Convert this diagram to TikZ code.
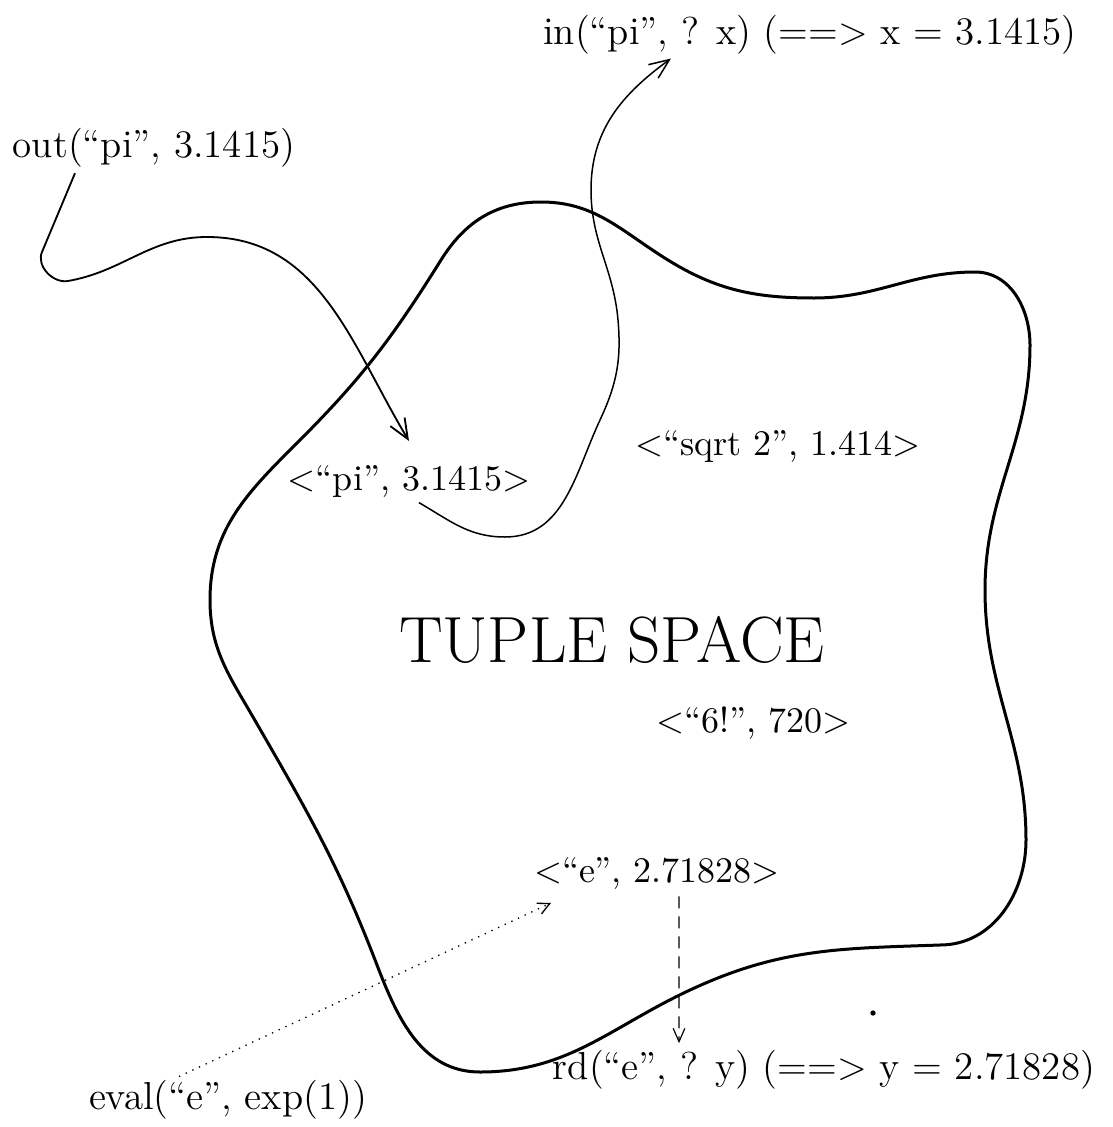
\documentclass[tikz,border=0pt]{standalone}
\usetikzlibrary{arrows.meta}
\begin{document}
\begin{tikzpicture}[
        x=0.3pt, y=-0.3pt,
        op/.style={inner sep=0pt, font=\fontsize{11.7}{14}\selectfont},
        tuple/.style={inner sep=0pt, font=\fontsize{10.8}{13}\selectfont},
        bigtitle/.style={inner sep=0pt, font=\fontsize{19.6}{24}\selectfont},
        spaceline/.style={line width=0.9pt},
        move/.style={line width=0.55pt, -{Straight Barb[length=6pt, width=5pt]}},
        readline/.style={line width=0.35pt, dash pattern=on 3.6pt off 2.4pt, -{Straight Barb[length=4pt, width=3.5pt]}},
        evalline/.style={line width=0.4pt, dash pattern=on 0.4pt off 1.8pt, -{Straight Barb[length=3.5pt, width=3.5pt]}},
    ]
    \useasboundingbox (0,0) rectangle (1112,1127);
    \node[op] (out) at (154,148) {out(“pi”, 3.1415)};
    \node[op] (in) at (810,35) {in(“pi”, ? x) (==> x = 3.1415)};
    \node[tuple] (pi) at (409,481) {<“pi”, 3.1415>};
    \node[tuple] (sqrt) at (778,446) {<“sqrt 2”, 1.414>};
    \node[bigtitle] (ts) at (612,640) {TUPLE SPACE};
    \node[tuple] (six) at (753,723) {<“6!”, 720>};
    \node[tuple] (e) at (657,873) {<“e”, 2.71828>};
    \node[op] (rd) at (824,1070) {rd(“e”, ? y) (==> y = 2.71828)};
    \node[op] (eval) at (228,1100) {eval(“e”, exp(1))};
    \draw[spaceline] (541,202) to[out=0, in=147] (660,255) to[out=327, in=180] (814,298)
        to[out=0, in=180] (975,272) to[out=0, in=90] (1030,345)
        to[out=270, in=90] (985,590) to[out=270, in=90] (1026,840)
        to[out=270, in=0] (940,945) to[out=182, in=25] (690,990)
        to[out=205, in=0] (480,1072) to[out=180, in=291] (377,965)
        to[out=111, in=300] (253,717) to[out=120, in=270] (210,600)
        to[out=90, in=225] (300,440) to[out=45, in=238] (441,260)
        to[out=58, in=180] cycle;
    \draw[move] ([xshift=-23.7pt, yshift=-1.5pt]out.south) -- (42,252)
        to[out=247, in=190] (68,281) to[out=10, in=180] (207,237)
        to[out=0, in=121] ([yshift=7pt]pi.north);
    \draw[move, line width=0.45pt] ([xshift=3pt, yshift=-1.5pt]pi.south)
        to[out=330, in=180] (505,537) to[out=0, in=245] (600,420)
        to[out=65, in=275] (618,320) to[out=95, in=270] (591,190)
        to[out=90, in=216] ([xshift=-41.7pt, yshift=-1pt]in.south);
    \draw[readline] ([xshift=6.6pt, yshift=-2pt]e.south) -- ([xshift=-43.5pt, yshift=2pt]rd.north);
    \draw[evalline] ([xshift=-14.7pt, yshift=1pt]eval.north) -- ([xshift=-31.8pt, yshift=-4pt]e.south);
    \fill (873,1013) circle (0.8pt);
\end{tikzpicture}
\end{document}
